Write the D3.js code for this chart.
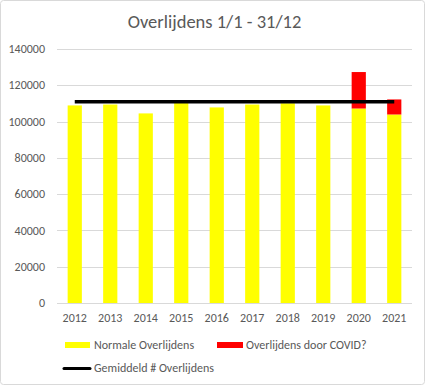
<!DOCTYPE html>
<html>
<head>
<meta charset="utf-8">
<script src="https://cdn.jsdelivr.net/npm/d3@7"></script>
<style>
  body { margin: 0; background: #fff; }
  text { font-family: Carlito, Lato, sans-serif; fill: #595959; }
</style>
</head>
<body>
<div id="chart"></div>
<script>
var years = ["2012","2013","2014","2015","2016","2017","2018","2019","2020","2021"];
var normal = [108900, 109400, 104500, 110200, 107800, 109400, 110100, 108900, 107200, 103900];
var covid = [0, 0, 0, 0, 0, 0, 0, 0, 20100, 8300];
var average = 110900;
var yTicks = [0, 20000, 40000, 60000, 80000, 100000, 120000, 140000];

var W = 427, H = 386;
var margin = {top: 49, right: 15, bottom: 83, left: 57};
var width = W - margin.left - margin.right,
    height = H - margin.top - margin.bottom;

var svg = d3.select("#chart").append("svg")
  .attr("width", W).attr("height", H);

svg.append("rect")
  .attr("x", 0.5).attr("y", 0.5).attr("width", W - 3).attr("height", H - 2)
  .attr("rx", 3)
  .style("fill", "#fff").style("stroke", "#d9d9d9");

svg.append("text")
  .attr("x", W/2 + 1).attr("y", 28)
  .attr("text-anchor", "middle").attr("font-size", "18.5px")
  .text("Overlijdens 1/1 - 31/12");

var g = svg.append("g")
  .attr("transform", "translate(" + margin.left + "," + margin.top + ")");

var x = d3.scaleBand().domain(years).range([0, width]).paddingInner(0.6).paddingOuter(0.3);
var y = d3.scaleLinear().domain([0, 140000]).range([height, 0]);

// gridlines
g.append("g").selectAll("line").data(yTicks).enter()
  .append("line")
  .attr("x1", 0).attr("x2", width)
  .attr("y1", function(d){ return Math.round(y(d)) + 0.5; })
  .attr("y2", function(d){ return Math.round(y(d)) + 0.5; })
  .style("stroke", "#d9d9d9").style("stroke-width", 1);

// y labels
g.append("g").selectAll("text").data(yTicks).enter()
  .append("text")
  .attr("x", -12).attr("y", function(d){ return y(d); })
  .attr("dy", "0.35em").attr("text-anchor", "end").attr("font-size", "12px")
  .text(function(d){ return d; });

// x labels
g.append("g").selectAll("text").data(years).enter()
  .append("text")
  .attr("x", function(d){ return x(d) + x.bandwidth()/2; })
  .attr("y", height + 19)
  .attr("text-anchor", "middle").attr("font-size", "12px")
  .text(function(d){ return d; });

// stacked bars
g.append("g").selectAll("rect").data(years).enter()
  .append("rect")
  .attr("x", function(d){ return x(d); })
  .attr("width", x.bandwidth())
  .attr("y", function(d, i){ return y(normal[i]); })
  .attr("height", function(d, i){ return height - y(normal[i]); })
  .style("fill", "#ffff00");

g.append("g").selectAll("rect").data(years).enter()
  .append("rect")
  .attr("x", function(d){ return x(d); })
  .attr("width", x.bandwidth())
  .attr("y", function(d, i){ return y(normal[i] + covid[i]); })
  .attr("height", function(d, i){ return y(normal[i]) - y(normal[i] + covid[i]); })
  .style("fill", "#ff0000");

// average line
var line = d3.line()
  .x(function(d){ return x(d) + x.bandwidth()/2; })
  .y(function(){ return y(average); });
g.append("path").datum(years)
  .attr("d", line)
  .style("fill", "none").style("stroke", "#000").style("stroke-width", 3.5);

// legend
var leg = svg.append("g");
leg.append("rect").attr("x", 65).attr("y", 342).attr("width", 25).attr("height", 6).style("fill", "#ffff00");
leg.append("text").attr("x", 94).attr("y", 345).attr("dy", "0.35em").attr("font-size", "12px").text("Normale Overlijdens");
leg.append("rect").attr("x", 217).attr("y", 342).attr("width", 26).attr("height", 6).style("fill", "#ff0000");
leg.append("text").attr("x", 246).attr("y", 345).attr("dy", "0.35em").attr("font-size", "12px").text("Overlijdens door COVID?");
leg.append("line").attr("x1", 64).attr("x2", 90).attr("y1", 368.5).attr("y2", 368.5)
  .style("stroke", "#000").style("stroke-width", 3).style("stroke-linecap", "round");
leg.append("text").attr("x", 94).attr("y", 368).attr("dy", "0.35em").attr("font-size", "12px").text("Gemiddeld # Overlijdens");
</script>
</body>
</html>
